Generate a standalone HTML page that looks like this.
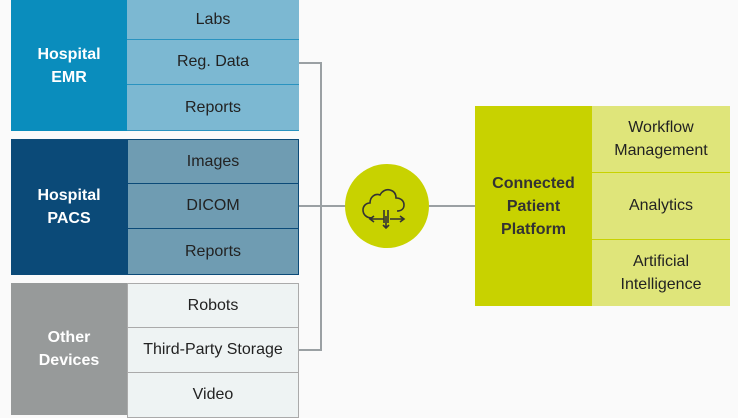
<!DOCTYPE html>
<html><head><style>
body{margin:0;width:738px;height:415px;background:#fafafa;position:relative;overflow:hidden;font-family:"Liberation Sans",sans-serif}
.a{position:absolute;box-sizing:border-box;display:flex;align-items:center;justify-content:center;text-align:center}
.h{color:#fff;font-weight:bold;font-size:16px;line-height:23px}
.c{font-size:16px;color:#222}
</style></head><body>
<div class="a h" style="left:11px;top:0;width:116px;height:131px;background:#0a8dbd">Hospital<br>EMR</div>
<div class="a c" style="left:127px;top:0;width:172px;height:40px;background:#7cb8d2;border-bottom:1px solid #2a93c0">Labs</div>
<div class="a c" style="left:127px;top:40px;width:172px;height:45px;background:#7cb8d2;border-bottom:1px solid #2a93c0">Reg. Data</div>
<div class="a c" style="left:127px;top:85px;width:172px;height:46px;background:#7cb8d2;border-bottom:1px solid #2a93c0">Reports</div>

<div class="a h" style="left:11px;top:139px;width:116px;height:136px;background:#0b4a78">Hospital<br>PACS</div>
<div class="a c" style="left:127px;top:139px;width:172px;height:45px;background:#6f9cb2;border:1px solid #0b4a78">Images</div>
<div class="a c" style="left:127px;top:183px;width:172px;height:46px;background:#6f9cb2;border:1px solid #0b4a78">DICOM</div>
<div class="a c" style="left:127px;top:228px;width:172px;height:47px;background:#6f9cb2;border:1px solid #0b4a78">Reports</div>

<div class="a h" style="left:11px;top:283px;width:116px;height:132px;background:#979a9a">Other<br>Devices</div>
<div class="a c" style="left:127px;top:283px;width:172px;height:45px;background:#eef3f3;border:1px solid #aaa">Robots</div>
<div class="a c" style="left:127px;top:327px;width:172px;height:46px;background:#eef3f3;border:1px solid #aaa">Third-Party Storage</div>
<div class="a c" style="left:127px;top:372px;width:172px;height:46px;background:#eef3f3;border:1px solid #aaa">Video</div>

<svg style="position:absolute;left:0;top:0" width="738" height="415">
<g stroke="#9aa0a3" stroke-width="2" fill="none">
<path d="M299 63H321V350H299M299 206H346M429 206H476"/>
</g>
<circle cx="387" cy="206" r="42" fill="#c8d200"/>
<g stroke="#333" stroke-width="1.6" fill="none">
<path d="M372 218c-6 0-9-4-9-8s3-7 7-7c0-6 5-10 10-8c2-4 6-6 10-5c4 1 6 4 6 8c5 0 8 3 8 7s-3 6-7 6"/>
<path d="M384 210v13M388 210v13M386 216v12M383 225l3 3 3-3M370 219h14M374 216l-4 3 4 3M390 219h14M400 216l4 3-4 3"/>
</g>
</svg>

<div class="a" style="left:475px;top:106px;width:117px;height:200px;background:#c8d200;font-weight:bold;font-size:16px;line-height:23px;color:#333">Connected<br>Patient<br>Platform</div>
<div class="a c" style="left:592px;top:106px;width:138px;height:67px;background:#dfe57a;border-bottom:1px solid #c8d200;line-height:23px">Workflow<br>Management</div>
<div class="a c" style="left:592px;top:173px;width:138px;height:67px;background:#dfe57a;border-bottom:1px solid #c8d200">Analytics</div>
<div class="a c" style="left:592px;top:240px;width:138px;height:66px;background:#dfe57a;line-height:23px">Artificial<br>Intelligence</div>
</body></html>
